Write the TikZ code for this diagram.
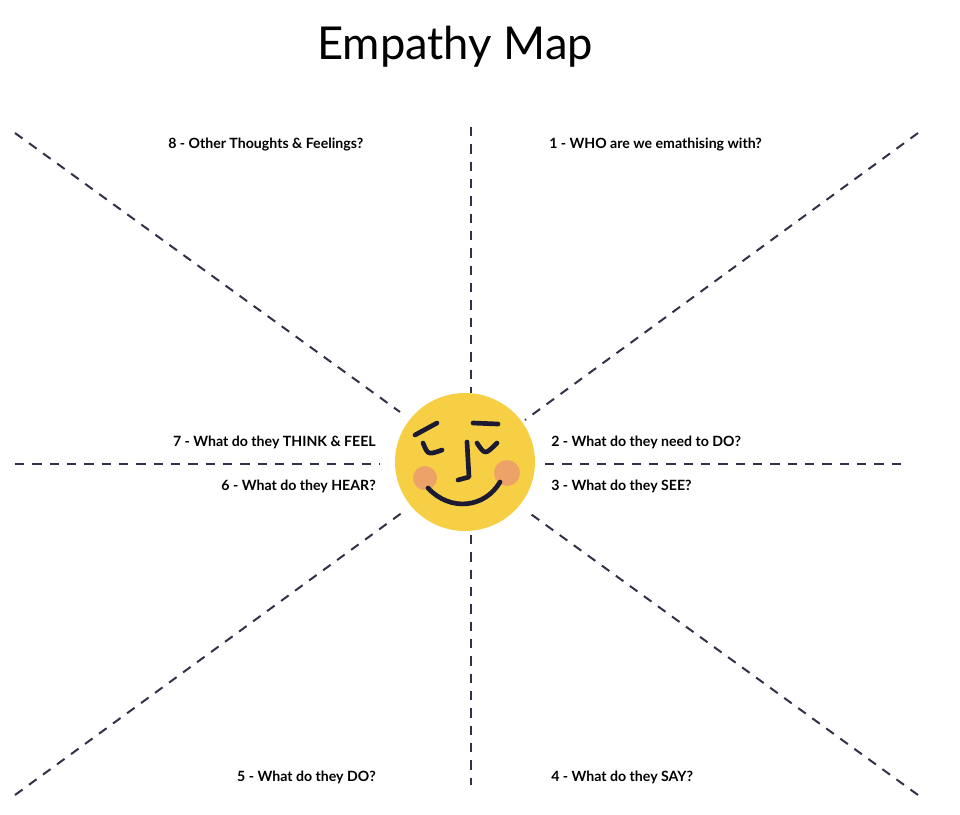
\documentclass[tikz,border=0pt]{standalone}
\usepackage{fontspec}
\setmainfont{Lato}
\usetikzlibrary{positioning}
\definecolor{faceyellow}{HTML}{F6CF45}
\definecolor{cheek}{HTML}{EDA267}
\definecolor{ink}{HTML}{1C1A33}
\tikzset{
  ray/.style={dash pattern=on 7pt off 6pt, line width=1.5pt, color=ink!90},
  lbl/.style={font=\bfseries\fontsize{10.6}{12}\selectfont, inner sep=0pt},
  feat/.style={line width=3.5pt, color=ink, line cap=round, line join=round}
}
\begin{document}
\begin{tikzpicture}[x=0.75pt,y=-0.75pt]
    \useasboundingbox (0,0) rectangle (960,814);
    \node[font=\fontsize{34}{40}\selectfont] (title) at (455,47) {Empathy Map};
    % rays
    \coordinate (c) at (465,462);
    \draw[ray] (471,127) -- (471,393);
    \draw[ray] (471,535) -- (471,785);
    \draw[ray] (15,464) -- (380,464);
    \draw[ray] (545,464) -- (908,464);
    \draw[ray] (15,133) -- (400,412);
    \draw[ray] (918,133) -- (525,420);
    \draw[ray] (15,795) -- (403,512);
    \draw[ray] (918,795) -- (528,512);
    % face
    \fill[faceyellow] (c) circle[x radius=70, y radius=69];
    \fill[cheek] (425,478) circle[radius=12];
    \fill[cheek] (507,473) circle[radius=13];
    \draw[feat] (415,435) -- (437,423);
    \draw[feat] (473,423) -- (498,424);
    \draw[feat] (423,443) .. controls (428,455) .. (442,450);
    \draw[feat] (477,443) .. controls (485,455) .. (497,443);
    \draw[feat] (467,442) -- (469,477) -- (458,480);
    \draw[feat] (428,488) .. controls (450,512) and (485,508) .. (500,482);
    % labels
    \node[lbl, anchor=west] (q8) at (168,145) {8 - Other Thoughts \& Feelings?};
    \node[lbl, anchor=west] (q1) at (549,145) {1 - WHO are we emathising with?};
    \node[lbl, anchor=east] (q7) at (376,442) {7 - What do they THINK \& FEEL};
    \node[lbl, anchor=west] (q2) at (551,442) {2 - What do they need to DO?};
    \node[lbl, anchor=east] (q6) at (376,486) {6 - What do they HEAR?};
    \node[lbl, anchor=west] (q3) at (551,486) {3 - What do they SEE?};
    \node[lbl, anchor=east] (q5) at (376,777) {5 - What do they DO?};
    \node[lbl, anchor=west] (q4) at (551,777) {4 - What do they SAY?};
\end{tikzpicture}
\end{document}
